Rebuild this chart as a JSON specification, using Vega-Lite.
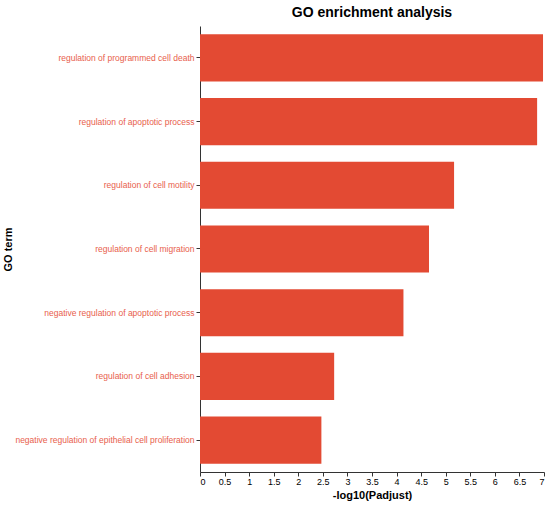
{
  "$schema": "https://vega.github.io/schema/vega-lite/v6.json",
  "description": "GO enrichment analysis, horizontal bars of -log10(Padjust) per GO term.",
  "autosize": "none",
  "padding": {"left": 200, "top": 26, "right": 6, "bottom": 33},
  "width": 344,
  "height": 446,
  "title": {
    "text": "GO enrichment analysis",
    "font": "Liberation Sans",
    "fontSize": 14,
    "fontWeight": "bold",
    "color": "#000000",
    "offset": 6
  },
  "data": {
    "values": [
      {"term": "regulation of programmed cell death", "value": 6.98},
      {"term": "regulation of apoptotic process", "value": 6.86},
      {"term": "regulation of cell motility", "value": 5.17},
      {"term": "regulation of cell migration", "value": 4.66},
      {"term": "negative regulation of apoptotic process", "value": 4.14},
      {"term": "regulation of cell adhesion", "value": 2.73},
      {"term": "negative regulation of epithelial cell proliferation", "value": 2.47}
    ]
  },
  "mark": {"type": "bar", "color": "#e34a33"},
  "encoding": {
    "y": {
      "field": "term",
      "type": "nominal",
      "sort": null,
      "title": "GO term",
      "scale": {"paddingInner": 0.26, "paddingOuter": 0.13},
      "axis": {
        "labelColor": "#e8604c",
        "labelFontSize": 8.5,
        "labelLimit": 300,
        "labelPadding": 2,
        "titleFontSize": 11,
        "titleX": -187
      }
    },
    "x": {
      "field": "value",
      "type": "quantitative",
      "title": "-log10(Padjust)",
      "scale": {"domain": [0, 7], "nice": false},
      "axis": {
        "tickCount": 14,
        "format": "~g",
        "grid": false,
        "labelFontSize": 9,
        "labelColor": "#000000",
        "labelPadding": 1,
        "titleFontSize": 11,
        "titlePadding": 3
      }
    }
  },
  "config": {
    "font": "Liberation Sans",
    "view": {"stroke": null},
    "axis": {
      "domainColor": "#333333",
      "tickColor": "#333333",
      "tickSize": 4,
      "titleFontWeight": "bold",
      "titleColor": "#000000"
    }
  }
}
